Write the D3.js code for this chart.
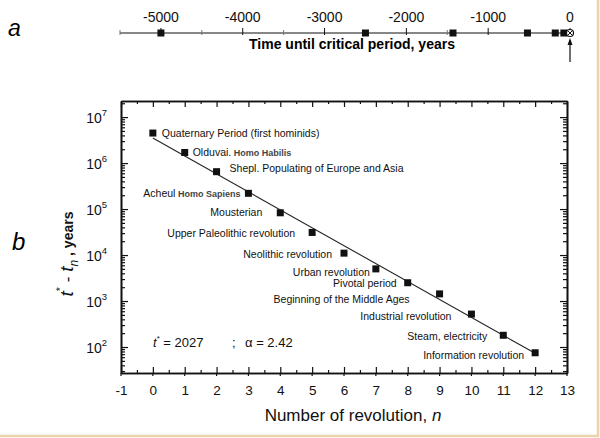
<!DOCTYPE html>
<html>
<head>
<meta charset="utf-8">
<script src="https://cdn.jsdelivr.net/npm/d3@7"></script>
<style>
  body { margin: 0; background: #fff; }
  svg { display: block; font-family: "Liberation Sans", Arial, sans-serif; }
</style>
</head>
<body>
<svg id="drawing_region"></svg>
<script>
// ---- data ----
const revolutionN = [0, 1, 2, 3, 4, 5, 6, 7, 8, 9, 10, 11, 12];
const revolutionNames = [
    "Quaternary Period (first hominids)", "Olduvai.", "Shepl. Populating of Europe and Asia",
    "Acheul", "Mousterian", "Upper Paleolithic revolution", "Neolithic revolution",
    "Urban revolution", "Pivotal period", "Beginning of the Middle Ages",
    "Industrial revolution", "Steam, electricity", "Information revolution"
];
const revolutionNotes = ["", "Homo Habilis", "", "Homo Sapiens", "", "", "", "", "", "", "", "", ""];
// t* - t_n, years
const yearsBefore = [4.5e6, 1.7e6, 6.5e5, 2.2e5, 8.3e4, 3.1e4, 1.1e4, 5000, 2500, 1430, 520, 180, 75];
// fitted line end points
const fitN = [0, 12];
const fitYears = [3.5e6, 73];

const xTickValues = [-1, 0, 1, 2, 3, 4, 5, 6, 7, 8, 9, 10, 11, 12, 13];
const yTickValues = [1e2, 1e3, 1e4, 1e5, 1e6, 1e7];
const timeTickValues = [-5000, -4000, -3000, -2000, -1000, 0];
const timeMinorValues = [-5500, -4500, -3500, -2500, -1500, -500];
const tStar = 2027;
const alpha = 2.42;

// ---- label layout (style only) ----
const labelSide = ["r", "r", "r", "l", "l", "l", "l", "l", "l", "l", "l", "l", "l"];
const labelGap  = [9, 8, 13, 8, 18, 17, 12, 6, 11, 30, 20, 16, 11];
const labelDy   = [0, 0, -3, 0, 0, 1, 1, 3, 1, 5, 2, 1, 3];

const W = 600, H = 438;
const svg = d3.select("#drawing_region").attr("width", W).attr("height", H);

svg.append("rect").attr("width", W).attr("height", H).attr("fill", "#fff");
// frame of the scanned figure
svg.append("path")
    .attr("d", `M${W - 2},0 V${H - 2} H0`)
    .attr("fill", "none").attr("stroke", "#ecd3ab").attr("stroke-width", 2.5);

// ================= panel a : timeline =================
const tx = d3.scaleLinear().domain([-5500, 0]).range([120, 570]);
const tlY = 33;
const tl = svg.append("g");

tl.append("line").attr("x1", tx(-5500)).attr("x2", tx(0) + 3)
    .attr("y1", tlY).attr("y2", tlY).attr("stroke", "#111").attr("stroke-width", 1.2);

tl.selectAll(".tmaj").data(timeTickValues).enter().append("line")
    .attr("x1", d => tx(d)).attr("x2", d => tx(d))
    .attr("y1", tlY - 5).attr("y2", tlY + 2).attr("stroke", "#111");
tl.selectAll(".tmin").data(timeMinorValues).enter().append("line")
    .attr("x1", d => tx(d)).attr("x2", d => tx(d))
    .attr("y1", tlY - 3).attr("y2", tlY + 2).attr("stroke", "#777");
tl.selectAll(".tlab").data(timeTickValues).enter().append("text")
    .attr("x", d => tx(d)).attr("y", 22)
    .attr("text-anchor", "middle").attr("font-size", "14px").attr("fill", "#111")
    .text(d => d);

const timePoints = yearsBefore.filter(d => d <= 5500);
tl.selectAll(".tpt").data(timePoints).enter().append("rect")
    .attr("x", d => tx(-d) - 3.5).attr("y", tlY - 3.5)
    .attr("width", 7).attr("height", 7).attr("fill", "#111");

// critical point
tl.append("circle").attr("cx", tx(0)).attr("cy", tlY).attr("r", 3.5)
    .attr("fill", "#fff").attr("stroke", "#111").attr("stroke-width", 1.2);
tl.append("path")
    .attr("d", `M${tx(0) - 2.5},${tlY - 2.5} L${tx(0) + 2.5},${tlY + 2.5} M${tx(0) - 2.5},${tlY + 2.5} L${tx(0) + 2.5},${tlY - 2.5}`)
    .attr("stroke", "#111").attr("stroke-width", 1);
// arrow
tl.append("line").attr("x1", tx(0)).attr("x2", tx(0)).attr("y1", 40).attr("y2", 62)
    .attr("stroke", "#111").attr("stroke-width", 1.2);
tl.append("path").attr("d", `M${tx(0)},38 L${tx(0) - 2.5},45 L${tx(0) + 2.5},45 Z`).attr("fill", "#111");

tl.append("text").attr("x", 352).attr("y", 49)
    .attr("text-anchor", "middle").attr("font-size", "14px").attr("font-weight", "bold")
    .text("Time until critical period, years");

svg.append("text").attr("x", 8).attr("y", 36)
    .attr("font-size", "23px").attr("font-style", "italic").text("a");

// ================= panel b : log plot =================
const pLeft = 121, pRight = 567, pTop = 101, pBottom = 373;
const x = d3.scaleLinear().domain([-1, 13]).range([pLeft, pRight]);
const y = d3.scaleLog().domain([10 ** 1.435, 10 ** 7.35]).range([pBottom, pTop]);

const yMinor = [];
[10, 100, 1000, 1e4, 1e5, 1e6, 1e7].forEach(p => {
    [2, 3, 4, 5, 6, 7, 8, 9].forEach(k => {
        const v = p * k;
        if (v >= y.domain()[0] && v <= y.domain()[1]) yMinor.push(v);
    });
});
const xMinor = xTickValues.slice(0, -1).map(d => d + 0.5);

const g = svg.append("g");

function styleAxis(sel) {
    sel.select(".domain").attr("stroke", "#111").attr("stroke-width", 1.6);
    sel.selectAll(".tick line").attr("stroke", "#111").attr("stroke-width", 1.2);
}

// bottom
g.append("g").attr("transform", `translate(0,${pBottom})`)
    .call(d3.axisBottom(x).tickValues(xTickValues).tickSizeInner(-6).tickSizeOuter(0).tickPadding(12).tickFormat(d => d))
    .call(styleAxis)
    .call(s => s.selectAll("text").attr("font-size", "13.5px").attr("fill", "#111").attr("font-family", "Liberation Sans, Arial"));
g.append("g").attr("transform", `translate(0,${pBottom})`)
    .call(d3.axisBottom(x).tickValues(xMinor).tickSizeInner(-3).tickSizeOuter(0).tickFormat(""))
    .call(styleAxis);
// bottom outward stubs at integers
g.selectAll(".xstub").data(xTickValues).enter().append("line")
    .attr("x1", d => x(d)).attr("x2", d => x(d)).attr("y1", pBottom).attr("y2", pBottom + 3)
    .attr("stroke", "#111").attr("stroke-width", 1.2);
// top
g.append("g").attr("transform", `translate(0,${pTop})`)
    .call(d3.axisTop(x).tickValues(xTickValues).tickSizeInner(-6).tickSizeOuter(0).tickFormat(""))
    .call(styleAxis);
g.append("g").attr("transform", `translate(0,${pTop})`)
    .call(d3.axisTop(x).tickValues(xMinor).tickSizeInner(-3).tickSizeOuter(0).tickFormat(""))
    .call(styleAxis);

// left
const yLeft = g.append("g").attr("transform", `translate(${pLeft},0)`)
    .call(d3.axisLeft(y).tickValues(yTickValues).tickSizeInner(-7).tickSizeOuter(0).tickPadding(14).tickFormat(""))
    .call(styleAxis);
yLeft.selectAll(".tick").each(function(d) {
    const t = d3.select(this).append("text")
        .attr("x", -14).attr("dy", "0.38em").attr("text-anchor", "end")
        .attr("font-size", "14px").attr("fill", "#111");
    t.append("tspan").text("10");
    t.append("tspan").attr("font-size", "9.5px").attr("dy", "-0.7em").text(Math.round(Math.log10(d)));
});
g.append("g").attr("transform", `translate(${pLeft},0)`)
    .call(d3.axisLeft(y).tickValues(yMinor).tickSizeInner(-4).tickSizeOuter(0).tickFormat(""))
    .call(styleAxis);
// right
g.append("g").attr("transform", `translate(${pRight},0)`)
    .call(d3.axisRight(y).tickValues(yTickValues).tickSizeInner(-7).tickSizeOuter(0).tickFormat(""))
    .call(styleAxis);
g.append("g").attr("transform", `translate(${pRight},0)`)
    .call(d3.axisRight(y).tickValues(yMinor).tickSizeInner(-4).tickSizeOuter(0).tickFormat(""))
    .call(styleAxis);

// fitted line
const fitData = fitN.map((n, i) => ({ n: n, v: fitYears[i] }));
g.append("path").datum(fitData)
    .attr("d", d3.line().x(d => x(d.n)).y(d => y(d.v)))
    .attr("fill", "none").attr("stroke", "#222").attr("stroke-width", 1.1);

// points
const points = revolutionN.map((n, i) => ({
    n: n, v: yearsBefore[i], name: revolutionNames[i], note: revolutionNotes[i],
    side: labelSide[i], gap: labelGap[i], dy: labelDy[i]
}));
g.selectAll(".pt").data(points).enter().append("rect")
    .attr("x", d => x(d.n) - 3.5).attr("y", d => y(d.v) - 3.5)
    .attr("width", 7).attr("height", 7).attr("fill", "#111");

const labels = g.selectAll(".lab").data(points).enter().append("text")
    .attr("x", d => d.side === "r" ? x(d.n) + d.gap : x(d.n) - d.gap)
    .attr("y", d => y(d.v) + d.dy)
    .attr("dy", "0.35em")
    .attr("text-anchor", d => d.side === "r" ? "start" : "end")
    .attr("font-size", "10.5px").attr("fill", "#111");
labels.append("tspan").text(d => d.name);
labels.filter(d => d.note).append("tspan")
    .attr("font-size", "9px").attr("font-weight", "bold").attr("fill", "#444")
    .text(d => " " + d.note);

// parameters
const par = g.append("text").attr("x", 153).attr("y", 347).attr("font-size", "13px").attr("fill", "#111");
par.append("tspan").attr("font-style", "italic").text("t");
par.append("tspan").attr("font-size", "8px").attr("dy", "-6").text("*");
par.append("tspan").attr("dy", "6").text(" = " + tStar);
par.append("tspan").attr("x", 232).text(";");
par.append("tspan").attr("x", 245).text("\u03b1 = " + alpha);

// y axis title
const yt = svg.append("text").attr("transform", "translate(73,254) rotate(-90)")
    .attr("text-anchor", "middle").attr("fill", "#111");
yt.append("tspan").attr("font-size", "19px").attr("font-style", "italic").text("t");
yt.append("tspan").attr("font-size", "11px").attr("dy", "-9").text("*");
yt.append("tspan").attr("font-size", "17px").attr("dy", "9").text(" - ");
yt.append("tspan").attr("font-size", "19px").attr("font-style", "italic").text("t");
yt.append("tspan").attr("font-size", "12px").attr("font-style", "italic").attr("dy", "5").text("n");
yt.append("tspan").attr("font-size", "14px").attr("font-weight", "bold").attr("dy", "-5").text(" , years");

// x axis title
const xt = svg.append("text").attr("x", 353).attr("y", 421)
    .attr("text-anchor", "middle").attr("font-size", "17px").attr("fill", "#111");
xt.append("tspan").text("Number of revolution, ");
xt.append("tspan").attr("font-style", "italic").text("n");

svg.append("text").attr("x", 12).attr("y", 250)
    .attr("font-size", "24px").attr("font-style", "italic").text("b");
</script>
</body>
</html>
